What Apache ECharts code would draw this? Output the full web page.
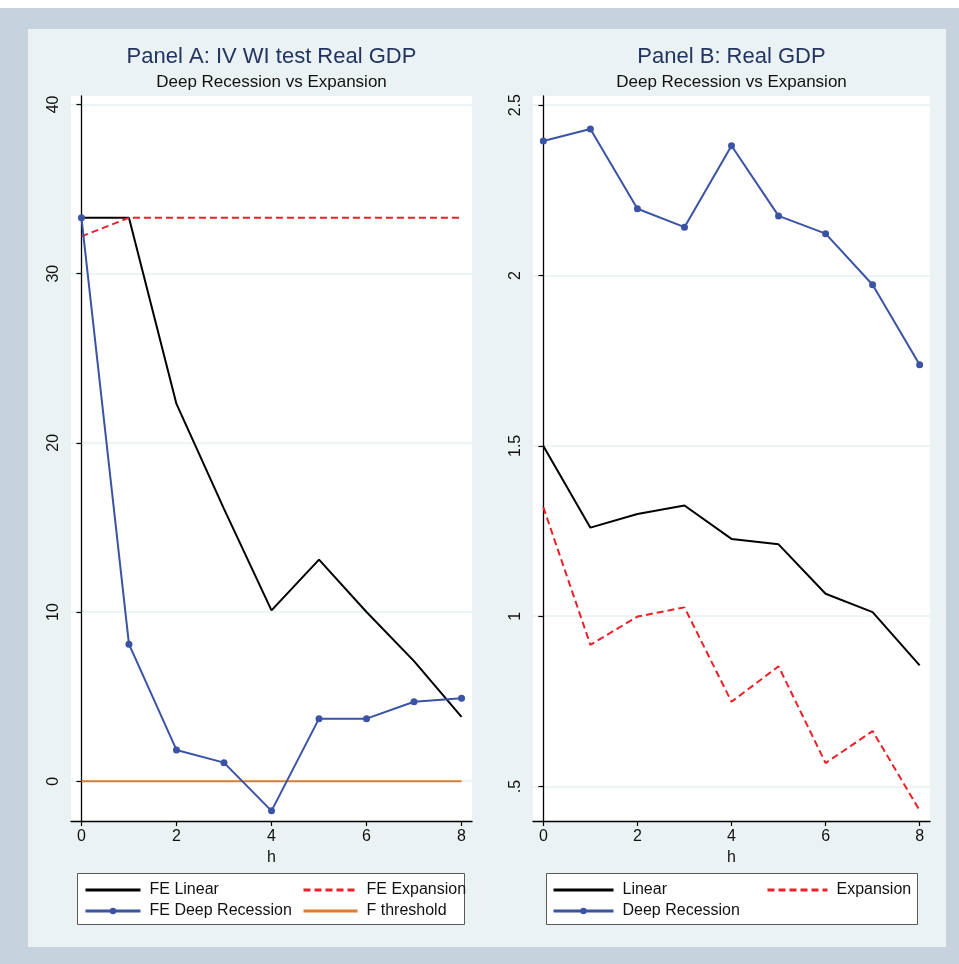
<!DOCTYPE html>
<html>
<head>
<meta charset="utf-8">
<title>Real GDP: Deep Recession vs Expansion</title>
<script src="https://cdn.jsdelivr.net/npm/echarts@6/dist/echarts.min.js"></script>
<style>
  html, body { margin: 0; padding: 0; background: #ffffff; }
  #frame { position: absolute; left: 0; top: 8px; width: 959px; height: 956px; background: #c6d3df; }
  #panel { position: absolute; left: 28px; top: 29px; width: 918px; height: 918px; background: #eaf2f4; }
  #chart { position: absolute; left: 0; top: 0; width: 959px; height: 964px; }
</style>
</head>
<body>
<div id="frame"></div>
<div id="panel"></div>
<div id="chart"></div>
<script>
// Horizons (h)
const horizons = [0, 1, 2, 3, 4, 5, 6, 7, 8];
const hTicks = [0, 2, 4, 6, 8];

// Panel A: IV WI test, first-stage F statistics
const feLinear        = [33.3, 33.3, 22.3, 16.1, 10.1, 13.1, 10.0, 7.1, 3.8];
const feExpansion     = [32.2, 33.3, 33.3, 33.3, 33.3, 33.3, 33.3, 33.3, 33.3];
const feDeepRecession = [33.3, 8.1, 1.85, 1.1, -1.75, 3.7, 3.7, 4.7, 4.9];
const fThreshold      = [0, 0, 0, 0, 0, 0, 0, 0, 0];
const panelATicks = [0, 10, 20, 30, 40];

// Panel B: Real GDP responses
const linear        = [1.50, 1.26, 1.30, 1.325, 1.227, 1.211, 1.066, 1.012, 0.856];
const expansion     = [1.32, 0.916, 0.999, 1.026, 0.749, 0.853, 0.569, 0.663, 0.430];
const deepRecession = [2.395, 2.43, 2.196, 2.142, 2.381, 2.175, 2.123, 1.973, 1.738];
const panelBTicks = [0.5, 1, 1.5, 2, 2.5];
const panelBTickLabels = ['.5', '1', '1.5', '2', '2.5'];

const FONT = "'Liberation Sans', Arial, Helvetica, sans-serif";
const BLUE = '#3a53a4';
const RED = '#ec2027';
const ORANGE = '#e07b2b';
const INK = '#111111';
const GRIDLINE = '#e6f0f2';

const pairs = arr => horizons.map((h, i) => [h, arr[i]]);

function xAxisFor(gridIndex) {
  return {
    type: 'value', gridIndex,
    min: -0.22, max: 8.22,
    name: 'h', nameLocation: 'middle', nameGap: 25,
    nameTextStyle: { fontSize: 16, color: INK, fontFamily: FONT },
    axisLine: { show: true, onZero: false, lineStyle: { color: '#000', width: 1.3 } },
    axisTick: { show: true, customValues: hTicks, length: 5, lineStyle: { color: '#000', width: 1.2 } },
    axisLabel: { customValues: hTicks, fontSize: 16, color: INK, fontFamily: FONT, margin: 8 },
    splitLine: { show: false }
  };
}

function yAxisFor(gridIndex, min, max, ticks, labels) {
  return {
    type: 'value', gridIndex, min, max,
    axisLine: { show: true, lineStyle: { color: '#000', width: 1.3 } },
    axisTick: { show: true, customValues: ticks, length: 5, lineStyle: { color: '#000', width: 1.2 } },
    axisLabel: {
      customValues: ticks, rotate: 90, fontSize: 16, color: INK, fontFamily: FONT, margin: 9,
      formatter: v => labels ? labels[ticks.indexOf(v)] : String(v)
    },
    splitLine: { show: true, lineStyle: { color: GRIDLINE, width: 1.6 } }
  };
}

// Legend entries: plain lines hide the marker, marked lines keep it
const plainEntry = name => ({ name, itemStyle: { opacity: 0, borderWidth: 0 } });
const markedEntry = name => ({ name });

function legendCol(entries, left, itemWidth) {
  return {
    data: entries, orient: 'vertical', left, top: 882,
    itemWidth, itemHeight: 8, itemGap: 5, padding: 0, z: 10,
    selectedMode: false,
    lineStyle: { width: 3 },
    textStyle: { fontSize: 16, color: INK, fontFamily: FONT, padding: [0, 0, 0, 4] }
  };
}

const titleStyle = { fontSize: 22, fontWeight: 'normal', color: '#22345f', fontFamily: FONT };
const subStyle = { fontSize: 17, fontWeight: 'normal', color: INK, fontFamily: FONT };

const option = {
  animation: false,
  backgroundColor: 'transparent',
  title: [
    { text: 'Panel A: IV WI test Real GDP', left: 271.5, top: 46, textAlign: 'center', padding: 0, textStyle: titleStyle },
    { text: 'Deep Recession vs Expansion', left: 271.5, top: 74, textAlign: 'center', padding: 0, textStyle: subStyle },
    { text: 'Panel B: Real GDP', left: 731.5, top: 46, textAlign: 'center', padding: 0, textStyle: titleStyle },
    { text: 'Deep Recession vs Expansion', left: 731.5, top: 74, textAlign: 'center', padding: 0, textStyle: subStyle }
  ],
  grid: [
    { left: 71, top: 96, width: 401, height: 725, show: true, backgroundColor: '#ffffff', borderWidth: 0 },
    { left: 533, top: 96, width: 397, height: 725, show: true, backgroundColor: '#ffffff', borderWidth: 0 }
  ],
  xAxis: [xAxisFor(0), xAxisFor(1)],
  yAxis: [
    yAxisFor(0, -2.35, 40.5, panelATicks, null),
    yAxisFor(1, 0.399, 2.527, panelBTicks, panelBTickLabels)
  ],
  graphic: [
    { type: 'rect', z: 1, shape: { x: 77.5, y: 873.5, width: 387, height: 51 },
      style: { fill: '#ffffff', stroke: '#5a5a5a', lineWidth: 1 } },
    { type: 'rect', z: 1, shape: { x: 546.5, y: 873.5, width: 371, height: 51 },
      style: { fill: '#ffffff', stroke: '#5a5a5a', lineWidth: 1 } }
  ],
  legend: [
    legendCol([plainEntry('FE Linear'), markedEntry('FE Deep Recession')], 84, 55),
    legendCol([plainEntry('FE Expansion'), plainEntry('F threshold')], 302, 54),
    legendCol([plainEntry('Linear'), markedEntry('Deep Recession')], 552, 60),
    legendCol([plainEntry('Expansion')], 766, 60)
  ],
  series: [
    // Panel A
    { name: 'FE Linear', type: 'line', xAxisIndex: 0, yAxisIndex: 0, data: pairs(feLinear),
      symbol: 'none', lineStyle: { color: '#000', width: 2 }, itemStyle: { color: '#000' } },
    { name: 'FE Expansion', type: 'line', xAxisIndex: 0, yAxisIndex: 0, data: pairs(feExpansion),
      symbol: 'none', lineStyle: { color: RED, width: 2, type: [7, 4] }, itemStyle: { color: RED } },
    { name: 'F threshold', type: 'line', xAxisIndex: 0, yAxisIndex: 0, data: pairs(fThreshold),
      symbol: 'none', lineStyle: { color: ORANGE, width: 2 }, itemStyle: { color: ORANGE } },
    { name: 'FE Deep Recession', type: 'line', xAxisIndex: 0, yAxisIndex: 0, data: pairs(feDeepRecession),
      symbol: 'circle', symbolSize: 7, lineStyle: { color: BLUE, width: 2 }, itemStyle: { color: BLUE } },
    // Panel B
    { name: 'Linear', type: 'line', xAxisIndex: 1, yAxisIndex: 1, data: pairs(linear),
      symbol: 'none', lineStyle: { color: '#000', width: 2 }, itemStyle: { color: '#000' } },
    { name: 'Expansion', type: 'line', xAxisIndex: 1, yAxisIndex: 1, data: pairs(expansion),
      symbol: 'none', lineStyle: { color: RED, width: 2, type: [7, 4] }, itemStyle: { color: RED } },
    { name: 'Deep Recession', type: 'line', xAxisIndex: 1, yAxisIndex: 1, data: pairs(deepRecession),
      symbol: 'circle', symbolSize: 7, lineStyle: { color: BLUE, width: 2 }, itemStyle: { color: BLUE } }
  ]
};

const chart = echarts.init(document.getElementById('chart'), null, { renderer: 'canvas' });
chart.setOption(option);
</script>
</body>
</html>
